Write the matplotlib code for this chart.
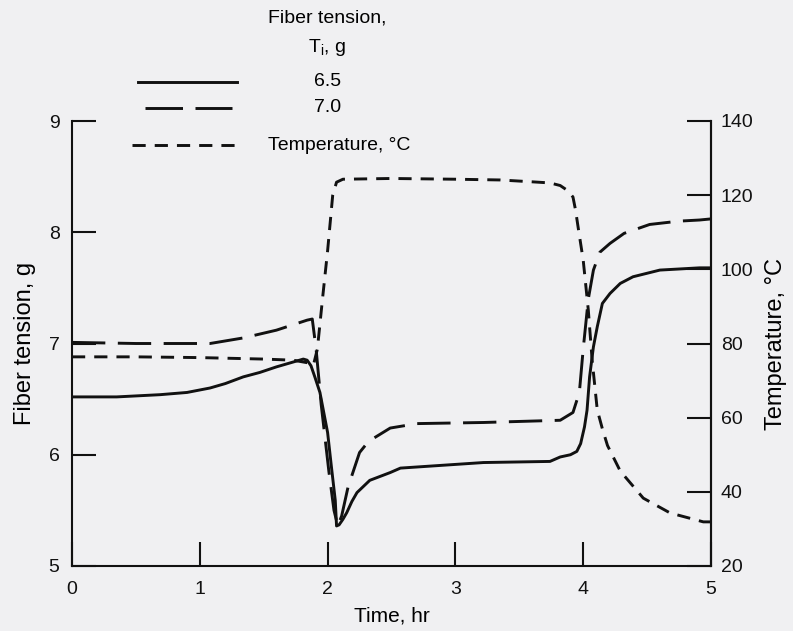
import matplotlib
matplotlib.use("Agg")
import matplotlib.pyplot as plt
from matplotlib.lines import Line2D

plt.rcParams["font.family"] = ["Liberation Sans", "DejaVu Sans"]
plt.rcParams["mathtext.fontset"] = "custom"
plt.rcParams["mathtext.rm"] = "Liberation Sans"
plt.rcParams["mathtext.it"] = "Liberation Sans"
plt.rcParams["lines.scale_dashes"] = False

# fiber tension, initial 6.5 g
t_65 = [0.00, 0.35, 0.69, 0.90, 1.08, 1.20, 1.34, 1.47, 1.60, 1.72, 1.81, 1.84,
        1.87, 1.90, 1.94, 2.00, 2.03, 2.06, 2.07, 2.09, 2.12, 2.15, 2.19, 2.23,
        2.33, 2.49, 2.57, 3.22, 3.74, 3.82, 3.90, 3.95, 3.98, 4.01, 4.03, 4.05,
        4.08, 4.11, 4.15, 4.21, 4.29, 4.39, 4.60, 4.91, 5.00]
g_65 = [6.52, 6.52, 6.54, 6.56, 6.60, 6.64, 6.70, 6.74, 6.79, 6.83, 6.86, 6.85,
        6.80, 6.70, 6.56, 6.20, 5.89, 5.59, 5.36, 5.37, 5.42, 5.48, 5.58, 5.66,
        5.77, 5.84, 5.88, 5.93, 5.94, 5.98, 6.00, 6.03, 6.10, 6.25, 6.40, 6.70,
        6.97, 7.15, 7.36, 7.45, 7.54, 7.60, 7.66, 7.68, 7.68]

# fiber tension, initial 7.0 g
t_70 = [0.00, 0.50, 1.08, 1.34, 1.60, 1.84, 1.88, 1.91, 1.95, 2.01, 2.05, 2.08,
        2.11, 2.16, 2.25, 2.32, 2.49, 2.70, 3.22, 3.82, 3.92, 3.97, 4.00, 4.04,
        4.08, 4.13, 4.21, 4.32, 4.52, 4.75, 4.91, 5.00]
g_70 = [7.01, 7.00, 7.00, 7.05, 7.12, 7.21, 7.22, 6.95, 6.45, 5.85, 5.50, 5.36,
        5.45, 5.71, 6.02, 6.12, 6.24, 6.28, 6.29, 6.31, 6.38, 6.56, 6.95, 7.40,
        7.66, 7.82, 7.90, 7.99, 8.07, 8.10, 8.11, 8.12]

# temperature, deg C
t_temp = [0.00, 0.50, 1.00, 1.50, 1.73, 1.86, 1.89, 1.92, 1.96, 2.00, 2.04, 2.07,
          2.12, 2.50, 3.00, 3.35, 3.60, 3.74, 3.82, 3.88, 3.92, 3.94, 3.96, 4.00,
          4.04, 4.07, 4.11, 4.15, 4.19, 4.29, 4.47, 4.68, 4.94, 5.00]
temp = [76.4, 76.4, 76.2, 75.8, 75.5, 74.7, 74.3, 78.5, 92.0, 105.0, 120.0, 123.5,
        124.3, 124.5, 124.3, 124.1, 123.6, 123.3, 122.6, 121.2, 119.5, 116.0, 111.4, 102.5,
        89.0, 75.5, 62.1, 57.0, 52.5, 45.6, 38.3, 34.3, 31.9, 31.9]

x_ticks = [0, 1, 2, 3, 4, 5]
left_ticks = [5, 6, 7, 8, 9]
right_ticks = [20, 40, 60, 80, 100, 120, 140]

bg = "#f0f0f2"
ink = "#111111"
LONG = (0, (24, 9))
SHORT = (0, (9.5, 6.5))

fig = plt.figure(figsize=(7.93, 6.31), dpi=100, facecolor=bg)
ax = fig.add_axes([72 / 793, 1 - 566 / 631, 639 / 793, 445 / 631])
ax.set_facecolor(bg)
ax2 = ax.twinx()

ax.plot(t_65, g_65, color=ink, lw=2.1)
ax.plot(t_70, g_70, color=ink, lw=2.1, linestyle=LONG)
ax2.plot(t_temp, temp, color=ink, lw=2.1, linestyle=SHORT)

ax.set_xlim(0, 5)
ax.set_ylim(5, 9)
ax2.set_ylim(20, 140)
ax.set_xticks(x_ticks)
ax.set_yticks(left_ticks)
ax2.set_yticks(right_ticks)

for a in (ax, ax2):
    a.spines["top"].set_visible(False)
    for s in a.spines.values():
        s.set_linewidth(1.5)
        s.set_color(ink)
ax2.spines["left"].set_visible(False)
ax2.spines["bottom"].set_visible(False)

ax.tick_params(axis="both", direction="in", length=17, width=1.5, colors=ink,
               labelsize=14, pad=9)
ax.tick_params(axis="x", pad=11)
ax2.tick_params(axis="y", direction="in", length=17, width=1.5, colors=ink,
                labelsize=14, pad=7)

ax.set_xlabel("Time, hr", fontsize=15, labelpad=6)
ax.set_ylabel("Fiber tension, g", fontsize=17, labelpad=9)
ax2.set_ylabel("Temperature, °C", fontsize=17, labelpad=8)

# legend drawn as a key block above the axes
def key(x0, x1, y, style):
    fig.add_artist(Line2D([x0 / 793, x1 / 793], [1 - y / 631, 1 - y / 631],
                          transform=fig.transFigure, color=ink, lw=2.1,
                          linestyle=style))

fig.text(327 / 793, 1 - 18 / 631, "Fiber tension,", ha="center", va="center", fontsize=14)
fig.text(327 / 793, 1 - 47 / 631, r"T$_{\mathrm{i}}$, g", ha="center", va="center", fontsize=14)
key(138, 237, 82, "-")
fig.text(328 / 793, 1 - 82 / 631, "6.5", ha="center", va="center", fontsize=14)
key(145, 232, 108, (0, (27, 9)))
fig.text(328 / 793, 1 - 108 / 631, "7.0", ha="center", va="center", fontsize=14)
key(132, 237, 145, SHORT)
fig.text(268 / 793, 1 - 145 / 631, "Temperature, °C", ha="left", va="center", fontsize=14)

fig.savefig("out.png", dpi=100, facecolor=bg)
